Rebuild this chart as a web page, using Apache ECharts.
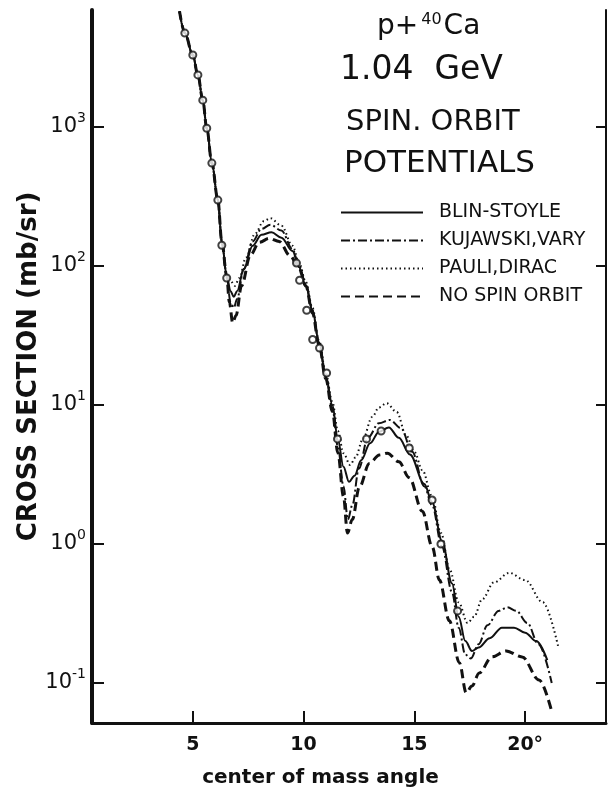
<!DOCTYPE html>
<html><head><meta charset="utf-8">
<script src="https://cdn.jsdelivr.net/npm/echarts@6/dist/echarts.min.js"></script>
<style>html,body{margin:0;padding:0;background:#fff}#c{width:609px;height:793px}</style>
</head><body><div id="c"></div>
<script>
// ---- data ----
const xTicks = [5, 10, 15, 20];
const yTicks = [0.1, 1, 10, 100, 1000];

const blinAngle = [4.4,4.64,5.0,5.23,5.45,5.63,5.86,6.13,6.31,6.53,6.7,6.85,7.0,7.3,7.7,8.1,8.55,9.0,9.5,9.8,10.1,10.4,10.7,11.0,11.3,11.55,11.8,12.05,12.3,12.6,13.0,13.4,13.85,14.3,14.8,15.45,15.8,16.25,16.7,17.0,17.3,17.6,17.9,18.4,18.95,19.5,20.0,20.5,21.0];
const blinValue = [6800,4750,3300,2370,1560,980,550,300,150,85,66,60,66,95,140,168,175,160,128,98,72,48,28,16,10,5.6,3.6,2.8,3.1,4.0,5.3,6.4,6.9,5.8,4.4,2.7,2.0,1.05,0.52,0.3,0.2,0.17,0.18,0.21,0.25,0.25,0.23,0.2,0.146];

const kujAngle = [4.4,4.64,5.0,5.23,5.45,5.63,5.86,6.13,6.31,6.53,6.7,6.85,7.0,7.3,7.7,8.1,8.5,9.0,9.5,9.8,10.1,10.4,10.7,11.0,11.3,11.55,11.8,12.0,12.2,12.5,12.9,13.4,13.9,14.4,14.9,15.45,15.8,16.25,16.7,17.0,17.3,17.55,17.9,18.3,18.8,19.2,19.6,20.1,20.6,21.2];
const kujValue = [6800,4750,3300,2370,1560,980,550,300,150,85,55,50,58,95,150,185,198,180,132,100,74,48,28,16,9.5,5,2.6,1.5,1.9,3.5,5.8,7.4,7.8,6.8,4.6,2.6,1.9,0.95,0.45,0.25,0.16,0.15,0.19,0.26,0.33,0.35,0.33,0.27,0.19,0.1];

const pauliAngle = [4.4,4.64,5.0,5.23,5.45,5.63,5.86,6.13,6.31,6.53,6.7,6.9,7.1,7.4,7.8,8.2,8.5,9.0,9.5,9.8,10.1,10.4,10.7,11.0,11.3,11.55,11.8,12.1,12.35,12.66,13.1,13.4,13.75,14.2,14.64,15.0,15.36,15.8,16.2,16.6,17.0,17.4,17.7,18.06,18.6,19.28,20.0,20.8,21.5];
const pauliValue = [6800,4750,3300,2370,1560,980,550,300,150,85,78,72,82,115,170,210,221,195,140,105,77,50,29,17,10.5,6.5,4.5,3.7,4.2,5.6,8.2,9.6,10.3,8.9,6.0,4.6,3.4,2.2,1.2,0.65,0.38,0.27,0.3,0.4,0.53,0.62,0.55,0.38,0.18];

const noSoAngle = [4.4,4.64,5.0,5.23,5.45,5.63,5.86,6.13,6.31,6.53,6.65,6.8,6.95,7.2,7.6,8.0,8.45,8.9,9.4,9.8,10.1,10.4,10.7,11.0,11.3,11.55,11.8,11.98,12.2,12.52,12.97,13.42,13.78,14.3,14.77,15.36,15.81,16.13,16.58,17.03,17.34,17.6,17.93,18.5,19.14,19.86,20.63,21.17];
const noSoValue = [6800,4750,3300,2370,1560,980,550,300,150,85,55,39,44,72,120,148,158,150,118,95,72,46,27,15.5,9,4.5,2.2,1.2,1.5,2.57,3.8,4.37,4.5,3.9,3.0,1.72,0.95,0.55,0.28,0.14,0.085,0.095,0.118,0.154,0.17,0.154,0.105,0.065];

const dataAngle = [4.64,5.0,5.23,5.45,5.63,5.86,6.13,6.31,6.53,9.68,9.82,10.14,10.41,10.72,11.04,11.53,12.84,13.5,14.77,15.8,16.2,16.95];
const dataValue = [4740,3300,2370,1560,980,550,298,141,82,105,79,48,29.6,25.7,17,5.7,5.7,6.5,4.9,2.07,1.0,0.33];

const names = ['BLIN-STOYLE','KUJAWSKI,VARY','PAULI,DIRAC','NO SPIN ORBIT'];

// ---- chart ----
const pairs = (a, v) => a.map((x, i) => [x, v[i]]);
const INK = '#111';
const chart = echarts.init(document.getElementById('c'), null, {renderer: 'canvas'});

const supRich = {
  b: {fontFamily: 'DejaVu Sans', fontSize: 21, color: INK, lineHeight: 21},
  s: {fontFamily: 'DejaVu Sans', fontSize: 14, color: INK, lineHeight: 14, padding: [0, 0, 17, 0]}
};

function lineSeries(name, data, type, width) {
  return {
    type: 'line', name, data, symbol: 'none', smooth: 0.35, smoothMonotone: 'x',
    lineStyle: {color: INK, width, type, cap: 'butt'},
    itemStyle: {color: INK},
    z: 3, silent: true
  };
}

chart.setOption({
  animation: false,
  backgroundColor: '#fff',
  grid: {left: 92, right: 3, top: 10, bottom: 70, containLabel: false},
  legend: {
    data: names, orient: 'vertical', left: 335, top: 198,
    itemWidth: 82, itemHeight: 14, itemGap: 9, selectedMode: false,
    itemStyle: {opacity: 0, color: 'rgba(0,0,0,0)', borderWidth: 0},
    textStyle: {fontFamily: 'DejaVu Sans', fontSize: 19, color: INK, padding: [0, 0, 0, 11]}
  },
  xAxis: {
    type: 'value', min: 0.45, max: 23.65,
    name: 'center of mass angle', nameLocation: 'middle', nameGap: 45, nameMoveOverlap: false,
    nameTextStyle: {fontFamily: 'DejaVu Sans', fontWeight: 'bold', fontSize: 20, color: INK, padding: [0, 57, 0, 0]},
    axisLine: {show: true, lineStyle: {color: INK, width: 3}},
    axisTick: {show: true, inside: true, length: 12, lineStyle: {color: INK, width: 2}, customValues: xTicks},
    axisLabel: {customValues: xTicks, margin: 13, fontFamily: 'DejaVu Sans', fontWeight: 'bold', fontSize: 19, color: INK,
      formatter: v => v === 20 ? '20°' : String(v)},
    splitLine: {show: false}
  },
  yAxis: [{
    type: 'log', logBase: 10, min: 0.0515, max: 6950, position: 'left',
    name: 'CROSS SECTION (mb/sr)', nameLocation: 'middle', nameGap: 50, nameRotate: 90, nameMoveOverlap: false,
    nameTextStyle: {fontFamily: 'DejaVu Sans', fontWeight: 'bold', fontSize: 26, color: INK},
    axisLine: {show: true, lineStyle: {color: INK, width: 4}},
    axisTick: {show: true, inside: true, length: 12, lineStyle: {color: INK, width: 2}, customValues: yTicks},
    axisLabel: {customValues: yTicks, margin: 6, rich: supRich,
      formatter: v => '{b|10}{s|' + Math.round(Math.log10(v)) + '}'},
    splitLine: {show: false}, minorTick: {show: false}
  }, {
    type: 'log', logBase: 10, min: 0.0515, max: 6950, position: 'right',
    axisLine: {show: true, lineStyle: {color: INK, width: 2}},
    axisTick: {show: true, inside: true, length: 10, lineStyle: {color: INK, width: 2}, customValues: yTicks},
    axisLabel: {show: false},
    splitLine: {show: false}, minorTick: {show: false}
  }],
  graphic: [
    {type: 'text', left: 377, top: 12, style: {text: '{a|p+}{s|40}{a|Ca}', rich: {
      a: {fontFamily: 'DejaVu Sans', fontSize: 28, fill: INK, lineHeight: 30},
      s: {fontFamily: 'DejaVu Sans', fontSize: 16, fill: INK, lineHeight: 16, padding: [0, 2, 14, 3]}
    }}},
    {type: 'text', left: 340, top: 54, style: {text: '1.04  GeV', fontFamily: 'DejaVu Sans', fontSize: 33, fill: INK}},
    {type: 'text', left: 346, top: 108, style: {text: 'SPIN. ORBIT', fontFamily: 'DejaVu Sans', fontSize: 29, fill: INK}},
    {type: 'text', left: 344, top: 148, style: {text: 'POTENTIALS', fontFamily: 'DejaVu Sans', fontSize: 31, fill: INK}}
  ],
  series: [
    lineSeries(names[0], pairs(blinAngle, blinValue), 'solid', 2),
    lineSeries(names[1], pairs(kujAngle, kujValue), [9, 3, 2, 3], 2),
    lineSeries(names[2], pairs(pauliAngle, pauliValue), [1.5, 3], 2),
    lineSeries(names[3], pairs(noSoAngle, noSoValue), [9, 5], 3),
    {type: 'scatter', name: 'data', data: pairs(dataAngle, dataValue), symbol: 'emptyCircle', symbolSize: 7,
      itemStyle: {color: INK, borderColor: INK, borderWidth: 1.5}, z: 5, silent: true}
  ]
});
</script></body></html>
